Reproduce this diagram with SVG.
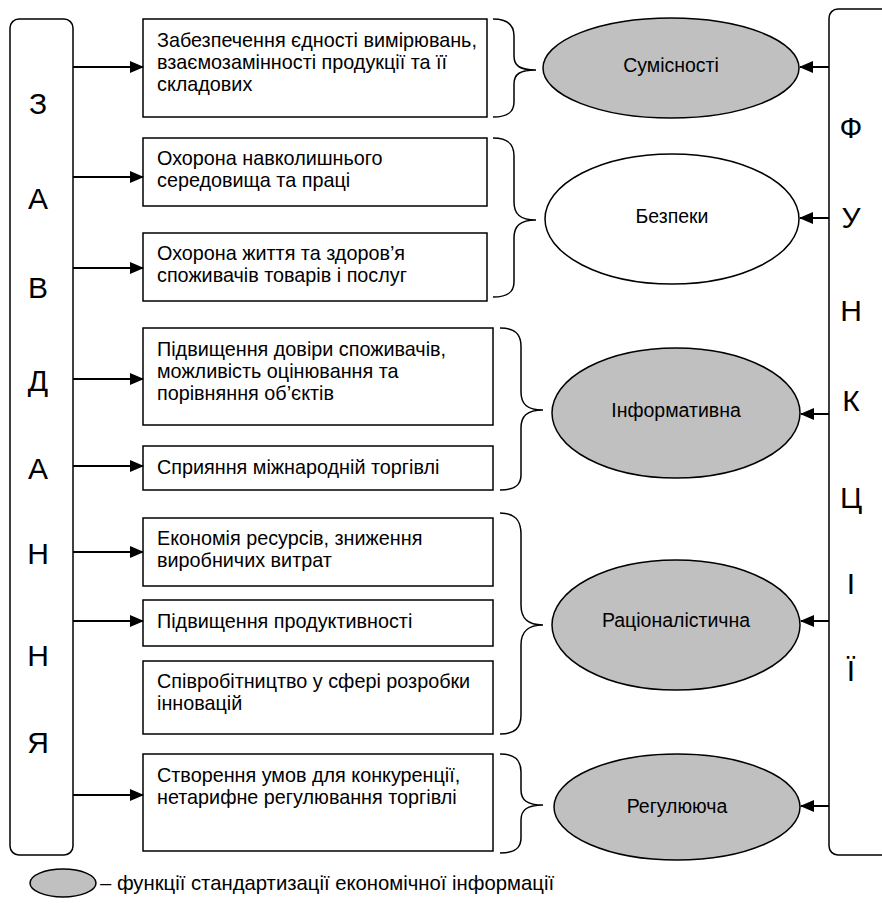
<svg xmlns="http://www.w3.org/2000/svg" width="882" height="907" viewBox="0 0 882 907">
<style>
text{font-family:"Liberation Sans",Arial,sans-serif;fill:#000}
.box{fill:#fff;stroke:#000;stroke-width:1.5}
.frame{fill:#fff;stroke:#000;stroke-width:1.5}
.ell{fill:#c0c0c0;stroke:#000;stroke-width:1.5}
.ellw{fill:#fff;stroke:#000;stroke-width:1.5}
.brace{fill:none;stroke:#000;stroke-width:1.5}
.con{stroke:#000;stroke-width:2;fill:none;marker-end:url(#ah)}
.t{font-size:19.8px}
.e{font-size:19.5px}
.lg{font-size:20.3px}
.big{font-size:30px}
</style>
<defs>
<marker id="ah" markerWidth="14" markerHeight="12" refX="13" refY="6" orient="auto" markerUnits="userSpaceOnUse">
<path d="M0,0 L14,6 L0,12 Z" fill="#000"/>
</marker>
</defs>

<g id="zavdannya">
<rect class="frame" x="10" y="19" width="63" height="836" rx="9"/>
<g class="big" text-anchor="middle">
<text x="38" y="114">З</text>
<text x="38" y="209">А</text>
<text x="38" y="298">В</text>
<text x="38" y="391">Д</text>
<text x="38" y="479">А</text>
<text x="38" y="564">Н</text>
<text x="38" y="666">Н</text>
<text x="38" y="753">Я</text>
</g>
</g>

<g id="funktsii">
<rect class="frame" x="829" y="9" width="70" height="846" rx="9"/>
<g class="big" text-anchor="middle">
<text x="851" y="138">Ф</text>
<text x="851" y="228">У</text>
<text x="851" y="321">Н</text>
<text x="851" y="411">К</text>
<text x="851" y="508">Ц</text>
<text x="851" y="594">І</text>
<text x="851" y="681">Ї</text>
</g>
</g>

<g id="box1">
<rect class="box" x="143" y="19" width="344" height="98"/>
<text class="t" x="157" y="47">Забезпечення єдності вимірювань,</text>
<text class="t" x="157" y="69">взаємозамінності продукції та її</text>
<text class="t" x="157" y="91">складових</text>
</g>
<g id="box2">
<rect class="box" x="143" y="138" width="344" height="68"/>
<text class="t" x="157" y="165">Охорона навколишнього</text>
<text class="t" x="157" y="187">середовища та праці</text>
</g>
<g id="box3">
<rect class="box" x="143" y="233" width="344" height="68"/>
<text class="t" x="157" y="260">Охорона життя та здоров’я</text>
<text class="t" x="157" y="282">споживачів товарів і послуг</text>
</g>
<g id="box4">
<rect class="box" x="143" y="328" width="350" height="97"/>
<text class="t" x="157" y="356">Підвищення довіри споживачів,</text>
<text class="t" x="157" y="378">можливість оцінювання та</text>
<text class="t" x="157" y="400">порівняння об’єктів</text>
</g>
<g id="box5">
<rect class="box" x="143" y="446" width="350" height="44"/>
<text class="t" x="157" y="474">Сприяння міжнародній торгівлі</text>
</g>
<g id="box6">
<rect class="box" x="143" y="518" width="350" height="68"/>
<text class="t" x="157" y="545">Економія ресурсів, зниження</text>
<text class="t" x="157" y="567">виробничих витрат</text>
</g>
<g id="box7">
<rect class="box" x="143" y="600" width="350" height="46"/>
<text class="t" x="157" y="628">Підвищення продуктивності</text>
</g>
<g id="box8">
<rect class="box" x="143" y="661" width="350" height="73"/>
<text class="t" x="157" y="688">Співробітництво у сфері розробки</text>
<text class="t" x="157" y="710">інновацій</text>
</g>
<g id="box9">
<rect class="box" x="143" y="754" width="350" height="97"/>
<text class="t" x="157" y="782">Створення умов для конкуренції,</text>
<text class="t" x="157" y="804">нетарифне регулювання торгівлі</text>
</g>

<g id="braces">
<path class="brace" d="M493,19 C508,19 514,25 514,36 L514,56 C514,66 520,70 536,70 C520,70 514,74 514,84 L514,102 C514,112 508,117 493,117"/>
<path class="brace" d="M493,138 C508,138 514,144 514,156 L514,202 C514,214 520,220 536,220 C520,220 514,226 514,238 L514,282 C514,292 508,297 493,297"/>
<path class="brace" d="M500,328 C515,328 521,334 521,346 L521,392 C521,404 527,410 543,410 C527,410 521,416 521,428 L521,475 C521,485 515,490 500,490"/>
<path class="brace" d="M500,513 C515,513 521,520 521,534 L521,605 C521,618 527,625 543,625 C527,625 521,632 521,645 L521,715 C521,728 515,734 500,734"/>
<path class="brace" d="M500,754 C515,754 521,760 521,772 L521,790 C521,800 527,805 543,805 C527,805 521,810 521,820 L521,838 C521,848 515,853 500,853"/>
</g>

<g id="sumisnosti">
<ellipse class="ell" cx="671" cy="68" rx="128" ry="50"/>
<text class="e" x="671" y="72" text-anchor="middle">Сумісності</text>
</g>
<g id="bezpeky">
<ellipse class="ellw" cx="672" cy="219" rx="127" ry="65"/>
<text class="e" x="672" y="223" text-anchor="middle">Безпеки</text>
</g>
<g id="informatyvna">
<ellipse class="ell" cx="676" cy="413" rx="124" ry="65"/>
<text class="e" x="676" y="417" text-anchor="middle">Інформативна</text>
</g>
<g id="ratsionalistychna">
<ellipse class="ell" cx="676" cy="625" rx="124" ry="65"/>
<text class="e" x="676" y="627" text-anchor="middle">Раціоналістична</text>
</g>
<g id="rehuliuiucha">
<ellipse class="ell" cx="677" cy="807" rx="123" ry="53"/>
<text class="e" x="677" y="813" text-anchor="middle">Регулююча</text>
</g>

<g id="connectors">
<line class="con" x1="73" y1="67" x2="143" y2="67"/>
<line class="con" x1="73" y1="177" x2="143" y2="177"/>
<line class="con" x1="73" y1="268" x2="143" y2="268"/>
<line class="con" x1="73" y1="379" x2="143" y2="379"/>
<line class="con" x1="73" y1="466" x2="143" y2="466"/>
<line class="con" x1="73" y1="552" x2="143" y2="552"/>
<line class="con" x1="73" y1="621" x2="143" y2="621"/>
<line class="con" x1="73" y1="795" x2="143" y2="795"/>
<line class="con" x1="829" y1="67" x2="800" y2="67"/>
<line class="con" x1="829" y1="218" x2="800" y2="218"/>
<line class="con" x1="829" y1="414" x2="801" y2="414"/>
<line class="con" x1="829" y1="621" x2="801" y2="621"/>
<line class="con" x1="829" y1="806" x2="801" y2="806"/>
</g>

<g id="legend">
<ellipse class="ell" cx="63" cy="883" rx="33" ry="14"/>
<text class="lg" x="100" y="890">– функції стандартизації економічної інформації</text>
</g>
</svg>
